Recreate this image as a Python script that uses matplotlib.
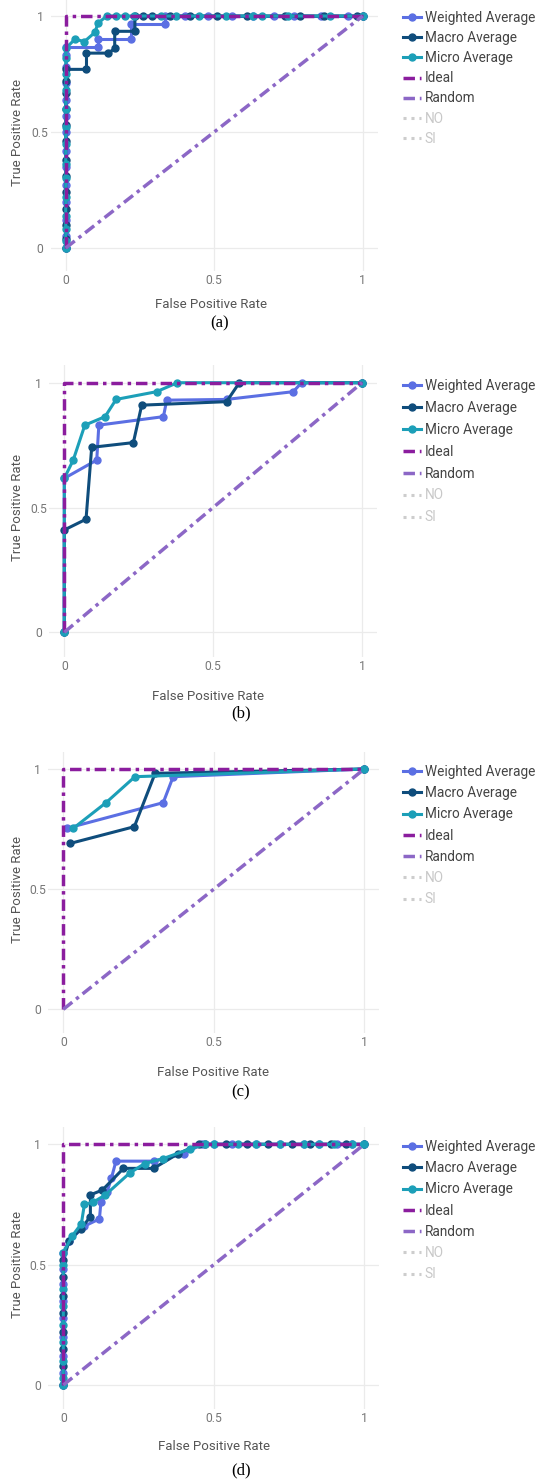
import matplotlib
matplotlib.use("Agg")
import matplotlib.pyplot as plt
from matplotlib.lines import Line2D

plt.rcParams['font.family'] = ['Roboto', 'DejaVu Sans']

# ---- data ----
series_names = ["Weighted Average", "Macro Average", "Micro Average", "Ideal", "Random", "NO", "SI"]
captions = ["(a)", "(b)", "(c)", "(d)"]
tick_vals = [0, 0.5, 1]
tick_text = ["0", "0.5", "1"]

ideal_x = [0, 0, 1]
ideal_y = [0, 1, 1]
random_x = [0, 1]
random_y = [0, 1]

# panel (a)
a_weighted_x = [0, 0, 0, 0, 0, 0, 0, 0, 0, 0, 0, 0, 0, 0, 0.11, 0.11, 0.22, 0.22, 0.335, 0.335,
                0.4, 0.48, 0.56, 0.63, 0.7, 0.77, 0.86, 0.95, 1.0]
a_weighted_y = [0, 0.05, 0.12, 0.2, 0.27, 0.35, 0.42, 0.5, 0.57, 0.64, 0.71, 0.78, 0.83, 0.865, 0.865, 0.9, 0.9, 0.965, 0.965, 1.0,
                1, 1, 1, 1, 1, 1, 1, 1, 1]
a_macro_x = [0, 0, 0, 0, 0, 0, 0, 0, 0, 0, 0, 0, 0, 0.07, 0.07, 0.144, 0.165, 0.165, 0.233, 0.233,
             0.26, 0.29, 0.35, 0.42, 0.51, 0.61, 0.74, 0.79, 0.87, 0.98, 1.0]
a_macro_y = [0, 0.04, 0.1, 0.17, 0.24, 0.31, 0.38, 0.46, 0.53, 0.6, 0.67, 0.72, 0.77, 0.77, 0.84, 0.84, 0.86, 0.934, 0.934, 1.0,
             1, 1, 1, 1, 1, 1, 1, 1, 1, 1, 1]
a_micro_x = [0, 0, 0, 0, 0, 0, 0, 0, 0, 0, 0, 0, 0, 0, 0.031, 0.063, 0.099, 0.108, 0.138,
             0.17, 0.2, 0.23, 0.32, 0.37, 0.45, 0.54, 0.63, 0.66, 0.75, 0.89, 1.0]
a_micro_y = [0, 0.03, 0.08, 0.14, 0.22, 0.3, 0.36, 0.45, 0.52, 0.6, 0.68, 0.75, 0.82, 0.86, 0.9, 0.89, 0.93, 0.968, 1.0,
             1, 1, 1, 1, 1, 1, 1, 1, 1, 1, 1, 1]

# panel (b)
b_weighted_x = [0, 0, 0.109, 0.116, 0.333, 0.344, 0.545, 0.769, 0.797, 1.0]
b_weighted_y = [0, 0.617, 0.69, 0.83, 0.864, 0.93, 0.933, 0.964, 1.0, 1.0]
b_macro_x = [0, 0, 0.073, 0.092, 0.232, 0.26, 0.545, 0.588, 1.0]
b_macro_y = [0, 0.41, 0.453, 0.741, 0.76, 0.91, 0.924, 1.0, 1.0]
b_micro_x = [0, 0, 0.03, 0.069, 0.137, 0.174, 0.31, 0.38, 1.0]
b_micro_y = [0, 0.617, 0.69, 0.83, 0.864, 0.933, 0.964, 1.0, 1.0]

# panel (c)
c_weighted_x = [0.011, 0.332, 0.365, 1.0]
c_weighted_y = [0.753, 0.86, 0.968, 1.0]
c_macro_x = [0.022, 0.236, 0.305, 1.0]
c_macro_y = [0.69, 0.76, 0.982, 1.0]
c_micro_x = [0.033, 0.142, 0.238, 1.0]
c_micro_y = [0.753, 0.86, 0.968, 1.0]

# panel (d)
d_weighted_x = [0, 0, 0, 0, 0, 0, 0, 0, 0, 0.02, 0.07, 0.12, 0.125, 0.145, 0.16, 0.175, 0.3, 0.4, 0.46,
                0.5, 0.56, 0.64, 0.72, 0.8, 0.85, 0.91, 0.96, 1.0]
d_weighted_y = [0, 0.05, 0.12, 0.2, 0.28, 0.35, 0.42, 0.48, 0.55, 0.6, 0.66, 0.69, 0.76, 0.8, 0.86, 0.93, 0.93, 0.96, 1.0,
                1, 1, 1, 1, 1, 1, 1, 1, 1]
d_macro_x = [0, 0, 0, 0, 0, 0, 0, 0, 0.02, 0.06, 0.09, 0.09, 0.13, 0.2, 0.3, 0.38, 0.45,
             0.47, 0.54, 0.61, 0.68, 0.76, 0.82, 0.89, 0.94, 1.0]
d_macro_y = [0, 0.08, 0.15, 0.22, 0.3, 0.37, 0.45, 0.52, 0.6, 0.65, 0.7, 0.79, 0.81, 0.9, 0.9, 0.96, 1.0,
             1, 1, 1, 1, 1, 1, 1, 1, 1]
d_micro_x = [0, 0, 0, 0, 0, 0, 0, 0, 0, 0.03, 0.06, 0.07, 0.1, 0.14, 0.22, 0.27, 0.33, 0.42, 0.47,
             0.5, 0.58, 0.64, 0.72, 0.8, 0.85, 0.9, 0.96, 1.0]
d_micro_y = [0, 0.03, 0.1, 0.18, 0.25, 0.33, 0.4, 0.5, 0.55, 0.62, 0.67, 0.75, 0.76, 0.79, 0.88, 0.92, 0.94, 0.98, 1.0,
             1, 1, 1, 1, 1, 1, 1, 1, 1]

panels = [
    (a_weighted_x, a_weighted_y, a_macro_x, a_macro_y, a_micro_x, a_micro_y),
    (b_weighted_x, b_weighted_y, b_macro_x, b_macro_y, b_micro_x, b_micro_y),
    (c_weighted_x, c_weighted_y, c_macro_x, c_macro_y, c_micro_x, c_micro_y),
    (d_weighted_x, d_weighted_y, d_macro_x, d_macro_y, d_micro_x, d_micro_y),
]

# ---- layout (pixels) ----
W, H = 542, 1482
fig = plt.figure(figsize=(W / 100, H / 100), dpi=100)


def fx(px):
    return px / W


def fy(py):
    return 1 - py / H


XLIM = (-0.05, 1.05)
YLIM = (-0.1, 1.07)
# pixel of data x=0, x=1, y=0, y=1
boxes = [(65.7, 362.7, 248, 16), (64.3, 362, 632.3, 382.7),
         (63.3, 364.3, 1009.3, 769), (63.3, 364.3, 1385, 1144.3)]
xlabel_pos = [(211, 305), (208, 697), (213, 1072), (214, 1446)]
caption_pos = [(220, 323), (241, 713), (241, 1092), (241, 1470)]
legend_top = [11, 379, 765, 1140]
legend_spacing = [0.45, 0.58, 0.53, 0.53]

col_w = "#5b6fe3"
col_ma = "#0f4d7c"
col_mi = "#1c9fb8"
col_id = "#8b1d9e"
col_rd = "#8c67c6"
col_hid = "#cdcdcd"
dashdot = (0, (3.3, 1.4, 1, 1.4))
LW = 2.2
MS = 5

for k, (wx, wy, max_, may, mix, miy) in enumerate(panels):
    x0, x1, y0, y1 = boxes[k]
    sx = x1 - x0
    sy = y0 - y1
    left = x0 + XLIM[0] * sx
    right = x0 + XLIM[1] * sx
    top = y0 - YLIM[1] * sy
    bottom = y0 - YLIM[0] * sy
    ax = fig.add_axes([fx(left), fy(bottom), (right - left) / W, (bottom - top) / H])
    ax.set_xlim(*XLIM)
    ax.set_ylim(*YLIM)

    hw, = ax.plot(wx, wy, color=col_w, lw=LW, marker='o', ms=MS, solid_joinstyle='round')
    hma, = ax.plot(max_, may, color=col_ma, lw=LW, marker='o', ms=MS, solid_joinstyle='round')
    hmi, = ax.plot(mix, miy, color=col_mi, lw=LW, marker='o', ms=MS, solid_joinstyle='round')
    hid, = ax.plot(ideal_x, ideal_y, color=col_id, lw=LW + 0.3, linestyle=dashdot)
    hrd, = ax.plot(random_x, random_y, color=col_rd, lw=LW + 0.3, linestyle=dashdot)
    hno = Line2D([], [], color=col_hid, lw=LW, linestyle=(0, (1, 1.6)))
    hsi = Line2D([], [], color=col_hid, lw=LW, linestyle=(0, (1, 1.6)))

    ax.set_xticks(tick_vals)
    ax.set_yticks(tick_vals)
    ax.set_xticklabels(tick_text)
    ax.set_yticklabels(tick_text)
    ax.grid(True, color="#ebebeb", lw=0.9)
    ax.set_axisbelow(True)
    for s in ax.spines.values():
        s.set_visible(False)
    ax.tick_params(length=0, labelsize=8.7, labelcolor="#777777")
    ax.tick_params(axis='y', pad=7.8)
    ax.tick_params(axis='x', pad=2)
    for lab in ax.get_yticklabels():
        lab.set_horizontalalignment('center')

    fig.text(fx(xlabel_pos[k][0]), fy(xlabel_pos[k][1]), "False Positive Rate",
             ha='center', va='center', fontsize=9.5, color="#555555")
    fig.text(fx(18), fy(y0 - 0.5 * sy), "True Positive Rate", rotation=90,
             ha='center', va='center', fontsize=9.5, color="#555555")
    fig.text(fx(caption_pos[k][0]), fy(caption_pos[k][1]), captions[k],
             ha='center', va='center', fontsize=12, color="black", family="Liberation Serif")

    leg = ax.legend([hw, hma, hmi, hid, hrd, hno, hsi], series_names,
                    loc='upper left', bbox_to_anchor=(fx(403), fy(legend_top[k])),
                    bbox_transform=fig.transFigure, frameon=False, fontsize=9.8,
                    handlelength=1.3, handletextpad=0.3, labelspacing=legend_spacing[k],
                    borderpad=0, borderaxespad=0, numpoints=1)
    for t, c in zip(leg.get_texts(), ["#444444"] * 5 + ["#c8c8c8"] * 2):
        t.set_color(c)

fig.savefig("out.png", dpi=100, facecolor="white")
